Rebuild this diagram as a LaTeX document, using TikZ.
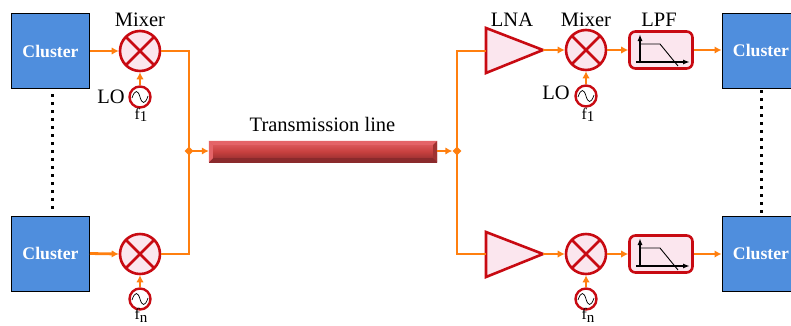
\documentclass[tikz,border=0pt]{standalone}
\usepackage{fontspec}
\setmainfont{Liberation Serif}
\usetikzlibrary{arrows.meta,calc,shapes.geometric}
\definecolor{wire}{HTML}{FF7F0F}
\definecolor{cred}{HTML}{C80A12}
\definecolor{pinkf}{HTML}{FBE6EE}
\definecolor{cblue}{HTML}{4F8EDD}
\definecolor{barlight}{HTML}{E46468}
\definecolor{barmid}{HTML}{C8403F}
\definecolor{bardark}{HTML}{8A2A2C}
\newcommand{\subf}[1]{f\raisebox{-2.5pt}{\fontsize{15}{15}\selectfont #1}}
\tikzset{
 wireline/.style={draw=wire,line width=2.8pt},
 flow/.style={wireline,-{Latex[length=7pt,width=7.5pt,color=wire]}},
 cluster/.style={draw=black,line width=1pt,fill=cblue,minimum width=78pt,minimum height=75pt,inner sep=0,text=white,font=\fontsize{17.7}{18}\selectfont\bfseries},
 mixer/.style={circle,draw=cred,line width=2.6pt,fill=pinkf,minimum size=40pt,inner sep=0,
   path picture={\draw[cred,line width=2.6pt] (path picture bounding box.north west)--(path picture bounding box.south east) (path picture bounding box.north east)--(path picture bounding box.south west);}},
 osc/.style={circle,draw=cred,line width=2.4pt,fill=white,minimum size=21pt,inner sep=0,
   path picture={\begin{scope}[shift={(path picture bounding box.center)}]\draw[black,line width=.7pt] (-8,1) .. controls (-5,-8) and (-2,-7) .. (0,0) .. controls (2,7) and (5,8) .. (8,-1);\end{scope}}},
 lpf/.style={rectangle,rounded corners=6pt,draw=cred,line width=2.6pt,fill=pinkf,minimum width=63pt,minimum height=37pt,inner sep=0},
 lbl/.style={inner sep=0,font=\fontsize{20.5}{20}\selectfont},
 sublbl/.style={inner sep=0,font=\fontsize{16}{16}\selectfont},
 tri/.style={draw=cred,line width=2.6pt,fill=pinkf,line join=miter},
 dotline/.style={draw=black,line width=3pt,dash pattern=on 3pt off 5pt},
 jdot/.style={diamond,fill=wire,inner sep=0,minimum size=9pt},
 bar/.style={rectangle,inner sep=0,minimum width=228pt,minimum height=21pt,top color=barlight,bottom color=bardark,middle color=barmid},
}
\begin{document}
\begin{tikzpicture}[x=1pt,y=-1pt]
\useasboundingbox (0,0) rectangle (791,325);
\clip (0,0) rectangle (791,325);
% clusters
\node[cluster] (c1) at (50.5,51) {Cluster};
\node[cluster] (c2) at (50.5,253.5) {Cluster};
\node[cluster] (c3) at (761,50.5) {Cluster};
\node[cluster] (c4) at (761,253.5) {Cluster};
\draw[dotline] (52,94) -- (52,212);
\draw[dotline] (761,90) -- (761,216);
% mixers
\node[mixer] (m1) at (140,51) {};
\node[mixer] (m2) at (140,254) {};
\node[mixer] (m3) at (586,50) {};
\node[mixer] (m4) at (586,254) {};
% oscillators
\node[osc] (o1) at (140,97) {};
\node[osc] (o2) at (140,299) {};
\node[osc] (o3) at (586,96) {};
\node[osc] (o4) at (586,299) {};
\foreach \a/\b in {o1/m1,o2/m2,o3/m3,o4/m4} \draw[flow] (\a) -- (\b);
% filters
\node[lpf] (f1) at (661,50) {};
\node[lpf] (f2) at (661,254) {};
\foreach \f in {f1,f2}{
 \begin{scope}[shift={(\f.center)}]
  \draw[black,line width=1.6pt,-{Latex[length=7pt,width=5pt]}] (-21,13) -- (-21,-16);
  \draw[black,line width=1.6pt,-{Latex[length=7pt,width=5pt]}] (-25,12) -- (29,12);
  \draw[black,line width=.9pt] (-21,-6) -- (-1,-6) -- (17,16);
 \end{scope}
}
% LNA triangles
\coordinate (a1in) at (486,51);
\coordinate (a1out) at (543,50);
\coordinate (a2in) at (486,254);
\coordinate (a2out) at (543,254);
\draw[tri] (486,28) -- (543,50) -- (486,73) -- cycle;
\draw[tri] (486,232) -- (543,254) -- (486,277) -- cycle;
% transmission line
\node[bar] (tl) at (323,151.5) {};
\fill[barlight] (tl.north west) -- ++(4,4) -- ($(tl.north east)+(-4,4)$) -- (tl.north east) -- cycle;
\fill[bardark] (tl.south west) -- ++(4,-4) -- ($(tl.south east)+(-4,-4)$) -- (tl.south east) -- cycle;
\fill[barmid!80!black] (tl.north east) -- ++(-4,4) -- ($(tl.south east)+(-4,-4)$) -- (tl.south east) -- cycle;
\fill[barlight] (tl.north west) -- ++(4,4) -- ($(tl.south west)+(4,-4)$) -- (tl.south west) -- cycle;
% junctions
\coordinate (jl) at (189,151);
\coordinate (jr) at (457,151);
\draw[wireline] (m1.east) -| (jl) (jl) |- (m2.east);
\draw[wireline] (a1in) -| (jr) (jr) |- (a2in);
\node[jdot] (jld) at (jl) {};
\node[jdot] (jrd) at (jr) {};
\draw[flow] (jl) -- (tl.west |- jl);
\draw[flow] (tl.east |- jr) -- (jrd.west);
% forward flows
\draw[flow] (c1.east) -- (m1.west);
\draw[flow] (c2.east) -- (m2.west);
\draw[flow] (a1out) -- (m3.west);
\draw[flow] (a2out) -- (m4.west);
\draw[flow] (m3.east) -- (f1.west);
\draw[flow] (m4.east) -- (f2.west);
\draw[flow] (f1.east) -- (c3.west |- f1.east);
\draw[flow] (f2.east) -- (c4.west |- f2.east);
% labels
\node[lbl] (lm1) at (140,20) {Mixer};
\node[lbl] (lm3) at (586,20) {Mixer};
\node[lbl] (llna) at (512,20) {LNA};
\node[lbl] (llpf) at (659,20) {LPF};
\node[lbl] (lo1) at (111,97) {LO};
\node[lbl] (lo3) at (556,93) {LO};
\node[lbl] (tlb) at (322.5,124) {Transmission line};
\node[sublbl] (s1) at (141,115) {\subf{1}};
\node[sublbl] (s2) at (141,315.5) {\subf{n}};
\node[sublbl] (s3) at (588,115) {\subf{1}};
\node[sublbl] (s4) at (588,315.5) {\subf{n}};
\end{tikzpicture}
\end{document}
